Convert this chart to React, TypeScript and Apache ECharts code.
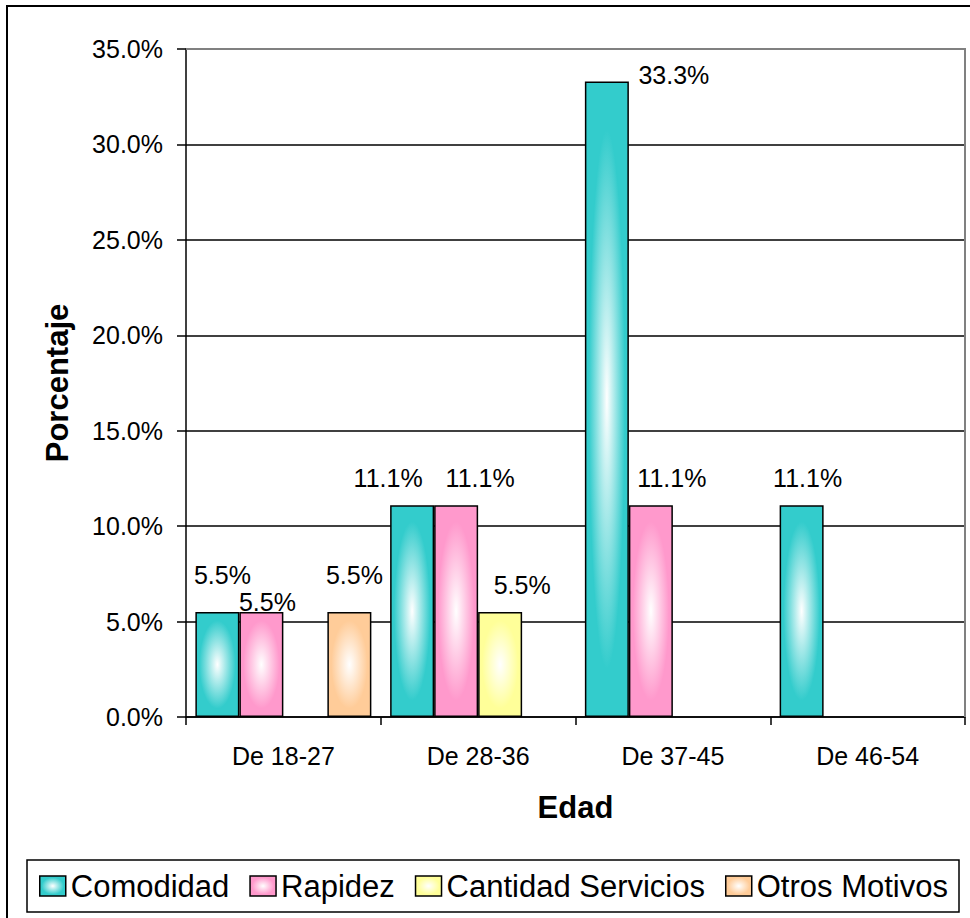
import React, { useEffect, useRef } from "react";
import * as echarts from "echarts";

const CATEGORIES = ["De 18-27", "De 28-36", "De 37-45", "De 46-54"];
const SERIES_NAMES = ["Comodidad", "Rapidez", "Cantidad Servicios", "Otros Motivos"];
const COMODIDAD = [5.5, 11.1, 33.3, 11.1];
const RAPIDEZ = [5.5, 11.1, 11.1, null];
const CANTIDAD_SERVICIOS = [null, 5.5, null, null];
const OTROS_MOTIVOS = [5.5, null, null, null];
const Y_MIN = 0;
const Y_MAX = 35;
const Y_STEP = 5;

const SERIES_VALUES = [COMODIDAD, RAPIDEZ, CANTIDAD_SERVICIOS, OTROS_MOTIVOS];
const SERIES_COLORS = ["#33CCCC", "#FF99CC", "#FFFF99", "#FFCC99"];

// label nudges (series-category) mimicking Excel's placement
const LABEL_SHIFT: Record<string, [number, number]> = {
  "0-0": [5, -10],
  "1-0": [6, 17],
  "3-0": [5, -10],
  "0-1": [-24, 0],
  "1-1": [24, 0],
  "2-1": [22, 0],
  "0-2": [67, 21],
  "1-2": [21, 0],
  "0-3": [6, 0],
};

const FONT = "'Liberation Sans', Arial, Helvetica, sans-serif";

export default function App() {
  const ref = useRef<HTMLDivElement>(null);

  useEffect(() => {
    if (!ref.current) return;
    const chart = echarts.init(ref.current, undefined, { renderer: "svg" });

    const series = SERIES_NAMES.map((name, s) => ({
      name,
      type: "bar",
      barWidth: 44,
      barGap: "0%",
      itemStyle: {
        color: new echarts.graphic.RadialGradient(0.5, 0.5, 0.5, [
          { offset: 0, color: "#ffffff" },
          { offset: 0.85, color: SERIES_COLORS[s] },
          { offset: 1, color: SERIES_COLORS[s] },
        ]),
        borderColor: "#000",
        borderWidth: 1.5,
      },
      label: {
        show: true,
        position: "top",
        distance: 15,
        fontSize: 25,
        lineHeight: 25,
        fontFamily: FONT,
        color: "#000",
        formatter: (p: any) => Number(p.value).toFixed(1) + "%",
      },
      emphasis: { disabled: true },
      data: SERIES_VALUES[s].map((v, c) => {
        if (v === null) return null;
        const sh = LABEL_SHIFT[`${s}-${c}`] || [0, 0];
        return { value: v, label: { offset: sh } };
      }),
    }));

    chart.setOption({
      animation: false,
      backgroundColor: "#ffffff",
      textStyle: { fontFamily: FONT },
      grid: {
        left: 186,
        top: 49,
        right: 5,
        bottom: 201,
        containLabel: false,
        outerBoundsMode: "none",
      },
      xAxis: {
        type: "category",
        data: CATEGORIES,
        axisLine: { lineStyle: { color: "#000", width: 1.5 } },
        axisTick: { show: true, length: 8, alignWithLabel: false, lineStyle: { color: "#000", width: 1.5 } },
        axisLabel: { fontSize: 25, lineHeight: 25, color: "#000", margin: 26, fontFamily: FONT },
        splitLine: { show: false },
      },
      yAxis: {
        type: "value",
        min: Y_MIN,
        max: Y_MAX,
        interval: Y_STEP,
        axisLine: { show: true, lineStyle: { color: "#000", width: 1.5 } },
        axisTick: { show: true, length: 9, lineStyle: { color: "#000", width: 1.5 } },
        axisLabel: {
          fontSize: 25,
          lineHeight: 25,
          color: "#000",
          margin: 23,
          fontFamily: FONT,
          formatter: (v: number) => v.toFixed(1) + "%",
        },
        splitLine: { show: true, lineStyle: { color: "#000", width: 1.5 } },
      },
      legend: {
        data: SERIES_NAMES,
        left: 39,
        top: 870.5,
        padding: 0,
        itemGap: 20,
        itemWidth: 26,
        itemHeight: 20,
        icon: "rect",
        itemStyle: { borderColor: "#000", borderWidth: 1.5 },
        textStyle: { fontSize: 31, lineHeight: 31, color: "#000", fontFamily: FONT },
        selectedMode: false,
      },
      graphic: [
        {
          type: "rect",
          z: 100,
          silent: true,
          shape: { x: 7, y: 6, width: 1100, height: 1100 },
          style: { fill: "none", stroke: "#000", lineWidth: 2 },
        },
        {
          type: "rect",
          z: 100,
          silent: true,
          shape: { x: 27, y: 860, width: 932, height: 52 },
          style: { fill: "none", stroke: "#000", lineWidth: 1.5 },
        },
        {
          type: "polyline",
          z: 100,
          silent: true,
          shape: { points: [[186, 49], [965, 49], [965, 717]] },
          style: { fill: "none", stroke: "#808080", lineWidth: 2 },
        },
        {
          type: "text",
          z: 100,
          silent: true,
          x: 57,
          y: 383,
          rotation: Math.PI / 2,
          style: {
            text: "Porcentaje",
            fontSize: 31,
            fontWeight: "bold",
            fontFamily: FONT,
            fill: "#000",
            align: "center",
            verticalAlign: "middle",
          },
        },
        {
          type: "text",
          z: 100,
          silent: true,
          x: 575.5,
          y: 807,
          style: {
            text: "Edad",
            fontSize: 31,
            fontWeight: "bold",
            fontFamily: FONT,
            fill: "#000",
            align: "center",
            verticalAlign: "middle",
          },
        },
      ],
      series,
    });

    return () => chart.dispose();
  }, []);

  return (
    <div
      ref={ref}
      style={{ position: "absolute", left: 0, top: 0, width: 970, height: 918 }}
    />
  );
}
